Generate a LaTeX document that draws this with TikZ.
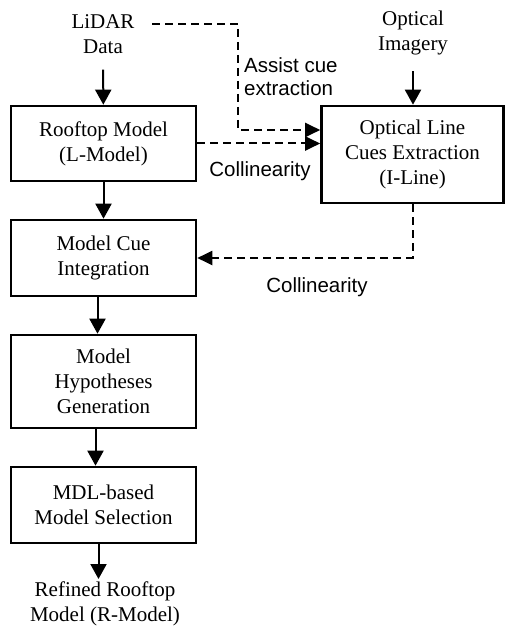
\documentclass[tikz,border=0pt]{standalone}
\usepackage{fontspec}
\setmainfont{Liberation Serif}
\setsansfont{Liberation Sans}
\usetikzlibrary{arrows.meta,positioning,calc}
\tikzset{
  stage/.style={rectangle, draw=black, line width=2.6pt, minimum width=185pt, align=center, inner sep=2pt, font=\fontsize{21}{25}\selectfont},
  source/.style={align=center, inner sep=2pt, outer ysep=14pt, font=\fontsize{21}{25}\selectfont},
  result/.style={align=center, inner sep=3pt, font=\fontsize{21}{25}\selectfont},
  cue/.style={align=left, inner sep=1pt, font=\sffamily\fontsize{20.5}{23}\selectfont},
  arrow/.style={-{Triangle[length=15pt,width=16pt]}, line width=2pt},
  dasharrow/.style={-{Triangle[length=15pt,width=14pt]}, line width=2pt, dash pattern=on 8pt off 5pt}
}
\begin{document}
\begin{tikzpicture}[x=1pt,y=-1pt]
  \useasboundingbox (0,0) rectangle (505,628);
  % inputs
  \node[source] (lidar) at (103,34) {LiDAR\\Data};
  \node[source] (optical) at (413,33) {Optical\\Imagery};
  % processing chain
  \node[stage, minimum height=75pt] (roof) at (103.5,143.5) {Rooftop Model\\(L-Model)};
  \node[stage, minimum width=182pt, minimum height=97pt] (iline) at (412.5,154.5) {Optical Line\\Cues Extraction\\(I-Line)};
  \node[stage, minimum height=76pt] (integ) at (103.5,258) {Model Cue\\Integration};
  \node[stage, minimum height=93pt] (hypo) at (103.5,381.5) {Model\\Hypotheses\\Generation};
  \node[stage, minimum height=76pt] (mdl) at (103.5,505) {MDL-based\\Model Selection};
  \node[result, anchor=north] (refined) at (105,579) {Refined Rooftop\\Model (R-Model)};
  % labels
  \node[cue, anchor=west] (assist) at (243,77) {Assist cue\\extraction};
  \node[cue] (col1) at (260,171) {Collinearity};
  \node[cue] (col2) at (317,287) {Collinearity};
  % solid flow
  \draw[arrow] (lidar) -- (roof);
  \draw[arrow] (optical) -- (optical |- iline.north);
  \draw[arrow] (roof) -- (integ);
  \draw[arrow] ([xshift=-6pt]integ.south) -- ([xshift=-6pt]hypo.north);
  \draw[arrow] ([xshift=-8pt]hypo.south) -- ([xshift=-8pt]mdl.north);
  \draw[arrow] ([xshift=-5pt]mdl.south) -- ([xshift=-5pt]mdl.south |- refined.north);
  % dashed cues
  \coordinate (bend) at (238,130);
  \draw[dasharrow] (152,24) -| (bend) -- (iline.west |- bend);
  \draw[dasharrow] (roof.east) -- (iline.west |- roof.east);
  \draw[dasharrow] (iline.south) |- (integ.east);
\end{tikzpicture}
\end{document}
